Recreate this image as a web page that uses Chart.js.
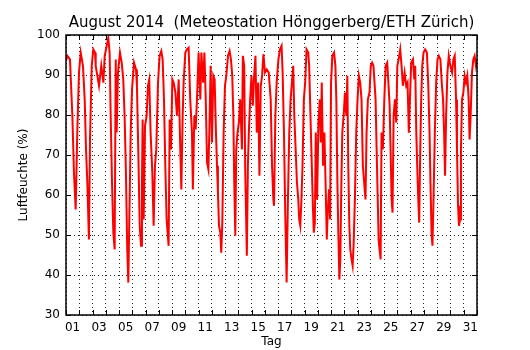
<!DOCTYPE html>
<html>
<head>
<meta charset="utf-8">
<script src="https://cdn.jsdelivr.net/npm/chart.js@4.4.0/dist/chart.umd.min.js"></script>
<style>
  html, body { margin: 0; padding: 0; background: #fff; }
</style>
</head>
<body>
<canvas id="c" width="530" height="350"></canvas>
<script>
const titel = 'August 2014  (Meteostation Hönggerberg/ETH Zürich)';

// Zeit in Tagen seit 1. Aug 00:00
const zeit = [
  0.00, 0.10, 0.30, 0.48, 0.60, 0.73, 0.85, 0.98, 1.11, 1.28, 1.41, 1.51, 1.61, 1.73, 1.81, 1.94,
  2.06, 2.19, 2.24, 2.49, 2.66, 2.82, 2.92, 3.07, 3.19, 3.29, 3.37, 3.47, 3.57, 3.67, 3.75, 3.82, 3.92,
  4.07, 4.20, 4.32, 4.42, 4.52, 4.62, 4.70, 4.78, 4.88, 4.98, 5.13, 5.28, 5.35, 5.45, 5.56, 5.66, 5.73,
  5.78, 5.86, 5.96, 6.08, 6.18, 6.28, 6.38, 6.51, 6.61, 6.71, 6.81, 6.94, 7.06, 7.19, 7.29, 7.39, 7.49,
  7.59, 7.74, 7.82, 7.92, 8.02, 8.12, 8.25, 8.37, 8.50, 8.62, 8.70, 8.80, 8.87, 9.00, 9.12, 9.25, 9.37,
  9.50, 9.57, 9.68, 9.78, 9.88, 10.00, 10.13, 10.21, 10.34, 10.44, 10.54, 10.64, 10.74, 10.81, 10.91,
  11.01, 11.11, 11.21, 11.31, 11.39, 11.46, 11.54, 11.64, 11.71, 11.79, 11.89, 11.99, 12.09, 12.22,
  12.34, 12.44, 12.54, 12.62, 12.69, 12.77, 12.84, 12.94, 13.04, 13.14, 13.27, 13.34, 13.44, 13.52,
  13.59, 13.64, 13.72, 13.79, 13.89, 13.99, 14.09, 14.19, 14.29, 14.39, 14.49, 14.59, 14.69, 14.79,
  14.89, 15.01, 15.14, 15.29, 15.44, 15.54, 15.64, 15.69, 15.79, 15.89, 16.02, 16.14, 16.26, 16.34,
  16.44, 16.54, 16.64, 16.74, 16.84, 16.94, 17.04, 17.14, 17.22, 17.32, 17.42, 17.52, 17.59, 17.67,
  17.74, 17.84, 17.94, 18.04, 18.14, 18.27, 18.34, 18.44, 18.54, 18.62, 18.69, 18.77, 18.84, 18.94,
  19.04, 19.14, 19.22, 19.29, 19.39, 19.49, 19.59, 19.67, 19.74, 19.84, 19.92, 19.99, 20.09, 20.22,
  20.32, 20.39, 20.47, 20.54, 20.62, 20.69, 20.77, 20.84, 20.94, 21.04, 21.14, 21.22, 21.29, 21.37,
  21.44, 21.54, 21.62, 21.69, 21.79, 21.89, 21.99, 22.09, 22.19, 22.29, 22.39, 22.49, 22.59, 22.67,
  22.77, 22.89, 22.99, 23.09, 23.19, 23.35, 23.43, 23.50, 23.58, 23.65, 23.73, 23.80, 23.90, 24.01,
  24.11, 24.23, 24.33, 24.41, 24.48, 24.56, 24.63, 24.71, 24.81, 24.91, 24.99, 25.09, 25.21, 25.31,
  25.41, 25.54, 25.66, 25.76, 25.86, 25.94, 26.04, 26.17, 26.27, 26.34, 26.42, 26.49, 26.57, 26.64,
  26.72, 26.79, 26.87, 26.97, 27.09, 27.22, 27.32, 27.42, 27.49, 27.57, 27.64, 27.72, 27.82, 27.92,
  28.02, 28.12, 28.24, 28.34, 28.44, 28.52, 28.59, 28.67, 28.77, 28.87, 28.99, 29.12, 29.22, 29.32,
  29.42, 29.49, 29.57, 29.64, 29.72, 29.79, 29.87, 29.97, 30.07, 30.17, 30.27, 30.37, 30.44, 30.52,
  30.62, 30.72, 30.82, 30.92, 31.00
];

// relative Luftfeuchte in %
const feuchte = [
  93.5, 94.8, 93.9, 79.8, 65.6, 56.4, 75.6, 90.6, 95.6, 92.3, 83.9, 71.4, 63.1, 48.9, 73.9, 92.3,
  96.4, 95.6, 92.3, 87.3, 92.3, 88.1, 94.8, 97.3, 99.3, 95.6, 79.8, 63.1, 50.6, 46.4, 93.9, 75.6, 90.6,
  95.6, 93.1, 88.9, 79.8, 65.6, 46.4, 38.1, 54.8, 75.6, 86.4, 93.1, 91.4, 87.3, 71.4, 52.3, 47.3, 63.1,
  78.9, 53.9, 77.3, 79.8, 87.3, 88.9, 75.6, 65.6, 52.3, 67.3, 71.4, 88.1, 94.8, 96.0, 93.9, 83.9, 67.3,
  53.9, 47.3, 78.9, 71.4, 88.9, 88.1, 85.6, 79.8, 88.9, 71.4, 61.4, 79.8, 88.1, 95.6, 96.4, 96.8, 83.9,
  75.6, 61.4, 79.8, 76.4, 83.9, 95.6, 83.9, 95.6, 88.1, 95.6, 83.9, 68.1, 66.4, 75.6, 92.3,
  73.1, 89.8, 88.9, 75.6, 67.3, 60.6, 52.3, 50.6, 45.6, 53.1, 75.6, 87.3, 89.8, 94.8,
  96.0, 93.9, 89.8, 79.8, 63.1, 49.8, 71.4, 75.6, 78.1, 83.9, 71.4, 94.8, 92.3, 65.6,
  53.9, 44.8, 67.3, 75.6, 83.9, 89.8, 82.3, 89.8, 94.8, 75.6, 88.1, 64.8, 87.3, 89.8,
  95.2, 90.6, 91.4, 90.6, 83.9, 67.3, 58.9, 57.3, 79.8, 88.1, 93.9, 96.4, 97.3, 90.6,
  75.6, 54.8, 38.1, 58.9, 75.6, 83.9, 88.1, 92.3, 79.8, 71.4, 63.1, 58.9, 53.9, 52.3,
  57.3, 67.3, 83.9, 88.1, 96.4, 95.6, 92.3, 79.8, 67.3, 57.3, 50.6, 53.1, 75.6, 58.9,
  78.1, 83.9, 73.1, 88.1, 67.3, 75.6, 61.4, 48.9, 55.6, 61.4, 53.9, 88.1, 94.8, 95.6,
  92.3, 83.9, 63.1, 50.6, 38.9, 43.9, 63.1, 75.6, 79.8, 85.6, 79.8, 89.8, 67.3, 52.3,
  46.4, 43.9, 42.3, 47.3, 58.9, 75.6, 83.9, 89.8, 88.1, 83.9, 67.3, 63.1, 58.9, 75.6,
  83.9, 85.6, 92.3, 93.1, 92.3, 83.9, 71.4, 60.6, 48.9, 46.4, 43.9, 75.6, 71.4, 83.9,
  92.3, 93.1, 87.3, 82.3, 71.4, 58.9, 55.6, 79.8, 83.9, 78.1, 92.3, 93.9, 96.4, 92.3,
  87.3, 90.6, 87.3, 88.1, 75.6, 83.9, 93.1, 93.9, 88.9, 92.3, 75.6, 67.3, 58.9, 53.1,
  71.4, 83.9, 92.3, 95.6, 96.4, 95.6, 88.1, 75.6, 63.1, 50.6, 47.3, 58.9, 75.6, 88.1,
  93.9, 94.8, 93.9, 88.1, 83.9, 75.6, 64.8, 79.8, 90.6, 94.8, 92.3, 90.6, 93.9, 94.8,
  83.9, 71.4, 57.3, 52.3, 53.9, 71.4, 83.9, 85.6, 89.8, 88.1, 89.8, 83.9, 73.9, 79.8,
  90.6, 93.9, 94.8, 92.3, 93.9
];

const tagGrenzen = Array.from({ length: 32 }, (_, i) => i);   // 0..31
const tagLabels = ['01', '03', '05', '07', '09', '11', '13', '15', '17', '19', '21', '23', '25', '27', '29', '31'];
const yTicks = [30, 40, 50, 60, 70, 80, 90, 100];

const schrift = { family: 'DejaVu Sans', size: 12, weight: 'normal' };

// Rahmen und nach innen zeigende Ticks (matplotlib-Stil)
const rahmen = {
  id: 'rahmen',
  afterDraw(chart) {
    const { ctx, chartArea: a, scales } = chart;
    ctx.save();
    ctx.strokeStyle = '#000';
    ctx.lineWidth = 1;
    ctx.beginPath();
    tagGrenzen.forEach(d => {
      const px = Math.round(scales.x.getPixelForValue(d)) + 0.5;
      ctx.moveTo(px, a.bottom); ctx.lineTo(px, a.bottom - 5);
      ctx.moveTo(px, a.top); ctx.lineTo(px, a.top + 5);
    });
    yTicks.forEach(v => {
      const py = Math.round(scales.y.getPixelForValue(v)) + 0.5;
      ctx.moveTo(a.left, py); ctx.lineTo(a.left + 5, py);
      ctx.moveTo(a.right, py); ctx.lineTo(a.right - 5, py);
    });
    ctx.stroke();
    ctx.lineWidth = 1.5;
    ctx.strokeRect(a.left, a.top, a.right - a.left, a.bottom - a.top);
    ctx.restore();
  }
};

new Chart(document.getElementById('c'), {
  type: 'line',
  data: {
    datasets: [{
      data: zeit.map((t, i) => ({ x: t, y: feuchte[i] })),
      borderColor: '#ff0000',
      borderWidth: 2,
      pointRadius: 0,
      tension: 0,
      fill: false
    }]
  },
  options: {
    responsive: false,
    animation: false,
    devicePixelRatio: 1,
    layout: { padding: { left: 0, right: 53, top: 0, bottom: 0 } },
    plugins: {
      legend: { display: false },
      tooltip: { enabled: false },
      title: {
        display: true,
        text: titel,
        fullSize: false,
        color: '#000',
        font: { family: 'DejaVu Sans', size: 15, weight: 'normal' },
        padding: { top: 14, bottom: 3 }
      }
    },
    scales: {
      x: {
        type: 'linear',
        min: 0,
        max: 31,
        afterBuildTicks: s => { s.ticks = tagGrenzen.map(v => ({ value: v })); },
        afterFit: s => { s.height = 35; },
        grid: { color: 'rgba(0,0,0,0.85)', lineWidth: 1, drawTicks: false },
        border: { display: false, dash: [1, 3] },
        ticks: {
          autoSkip: false,
          maxRotation: 0,
          padding: 6,
          labelOffset: 6.6,
          color: '#000',
          font: schrift,
          callback: v => (v % 2 === 0 && tagLabels[v / 2]) ? tagLabels[v / 2] : ''
        },
        title: { display: true, text: 'Tag', color: '#000', font: schrift, padding: { top: 0, bottom: 1.4 } }
      },
      y: {
        min: 30,
        max: 100,
        afterBuildTicks: s => { s.ticks = yTicks.map(v => ({ value: v })); },
        afterFit: s => { s.width = 66; },
        grid: { color: 'rgba(0,0,0,0.85)', lineWidth: 1, drawTicks: false },
        border: { display: false, dash: [1, 3] },
        ticks: { padding: 6, color: '#000', font: schrift },
        title: { display: true, text: 'Luftfeuchte (%)', color: '#000', font: schrift, padding: { top: 17, bottom: 0 } }
      }
    }
  },
  plugins: [rahmen]
});
</script>
</body>
</html>
